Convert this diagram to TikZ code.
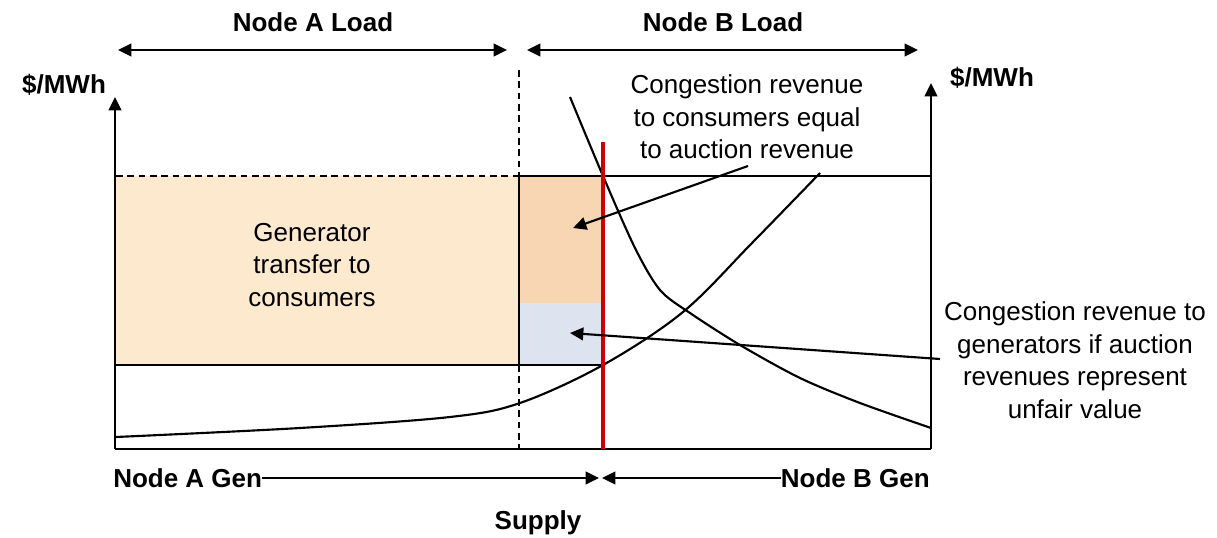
\documentclass[tikz,border=0pt]{standalone}
\usepackage{fontspec}
\setmainfont{Liberation Sans}
\usetikzlibrary{arrows.meta}
\definecolor{transferfill}{HTML}{FDE9CE}
\definecolor{consumerfill}{HTML}{F8D6B4}
\definecolor{generatorfill}{HTML}{DDE4F0}
\definecolor{priceline}{HTML}{D00000}
\begin{document}
\begin{tikzpicture}[x=0.75pt,y=-0.75pt,
  lbl/.style={font=\fontsize{19.5}{23}\selectfont\bfseries, inner sep=0pt},
  note/.style={font=\fontsize{19.5}{24.4}\selectfont, align=center, inner sep=0pt},
  ln/.style={line width=1.6pt, black},
  tipend/.style={-{Triangle[length=10pt,width=9.5pt]}},
  tipboth/.style={{Triangle[length=10pt,width=9.5pt]}-{Triangle[length=10pt,width=9.5pt]}},
  dashline/.style={line width=1.4pt, dash pattern=on 5pt off 3.5pt}]
\useasboundingbox (0,0) rectangle (1217,538);

% shaded areas
\fill[transferfill] (116,176) rectangle (519,365);
\fill[consumerfill] (519,176) rectangle (603,303);
\fill[generatorfill] (519,303) rectangle (603,365);

% price levels
\draw[dashline] (116,176) -- (519,176);
\draw[ln] (519,176) -- (931,176);
\draw[ln] (116,365) -- (603,365);
\draw[ln] (519,176) -- (519,365);
\draw[dashline] (519,70) -- (519,176);
\draw[dashline] (519,365) -- (519,449);

% axes
\coordinate (la0) at (115,449);
\coordinate (la1) at (115,97);
\coordinate (ra0) at (931,449);
\coordinate (ra1) at (931,83);
\draw[ln, tipend] (la0) -- (la1);
\draw[ln, tipend] (ra0) -- (ra1);
\draw[line width=1.9pt] (la0) -- (ra0);

% supply curve
\draw[ln] plot[smooth, tension=0.55] coordinates {(116,437) (300,428) (450,417) (520,403) (603,365) (683,312) (752,243) (820,173)};

% demand curve
\draw[ln] plot[smooth, tension=0.5] coordinates {(570,97) (603,176) (635,248) (660,290) (690,313) (740,345) (800,378) (860,403) (931,428)};

% interconnection limit
\draw[priceline, line width=2.4pt] (603,142) -- (603,449);

% load ranges
\node[lbl] (aload) at (313,22) {Node A Load};
\node[lbl] (bload) at (723,22) {Node B Load};
\coordinate (aL) at (118,50);
\coordinate (aR) at (507,50);
\coordinate (bL) at (527,50);
\coordinate (bR) at (918,50);
\draw[ln, tipboth] (aL) -- (aR);
\draw[ln, tipboth] (bL) -- (bR);

% axis units
\node[lbl] (ulabel) at (64,85) {\$/MWh};
\node[lbl] (urlabel) at (992,78) {\$/MWh};

% area labels
\node[note] (transfer) at (312,265) {Generator\\transfer to\\consumers};
\node[note] (consnote) at (747,117) {Congestion revenue\\to consumers equal\\to auction revenue};
\node[note] (gennote) at (1075,360) {Congestion revenue to\\generators if auction\\revenues represent\\unfair value};
\coordinate (c1s) at (748,166);
\coordinate (c1e) at (573,228);
\coordinate (c2s) at (940,359);
\coordinate (c2e) at (570,333);
\draw[ln, tipend] (c1s) -- (c1e);
\draw[ln, tipend] (c2s) -- (c2e);

% generation ranges
\node[lbl, anchor=west] (agen) at (113,478) {Node A Gen};
\node[lbl, anchor=east] (bgen) at (930,478) {Node B Gen};
\coordinate (agenR) at (599,478);
\coordinate (bgenL) at (602,478);
\draw[ln, tipend] (agen.east) -- (agenR);
\draw[ln, tipend] (bgen.west) -- (bgenL);
\node[lbl] (supply) at (538,523) {Supply};
\end{tikzpicture}
\end{document}
